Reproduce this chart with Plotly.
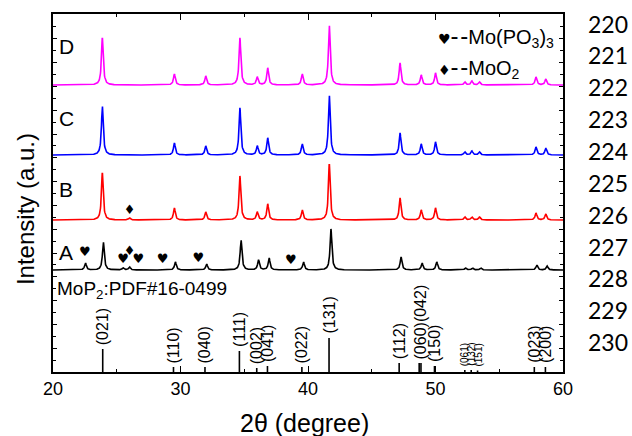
import numpy as np
import plotly.graph_objects as go

# ---------------- data ----------------
two_theta = np.round(np.arange(20.0, 60.0001, 0.02), 3)

peaks_main = [23.87, 29.52, 31.98, 34.66, 36.02, 36.84, 39.55, 41.67,
              47.22, 48.88, 50.00, 52.30, 52.85, 53.45, 57.88, 58.65]
int_D = [47, 11, 9, 47, 8, 17, 11, 60, 22, 10, 12, 3, 4, 3, 8, 6]
int_C = [49, 12, 9, 47, 9, 17, 11, 60, 22, 11, 13, 3, 4, 3, 8, 7]
int_B = [47, 12, 8, 44, 8, 16, 10, 56, 22, 10, 12, 3, 3, 3, 7, 6]
peaks_B_extra = [26.0]
int_B_extra = [2]

peaks_A = [23.95, 29.60, 32.05, 34.75, 36.12, 36.95, 39.65, 41.80,
           47.30, 48.95, 50.10, 52.35, 52.90, 53.55, 57.95, 58.75]
int_A = [28, 8, 6, 30, 10, 12, 8, 41, 13, 7, 8, 2, 2, 2, 5, 4]
peaks_A_extra = [22.55, 25.5, 26.0]
int_A_extra = [7, 2, 3]

# MoP2 reference PDF#16-0499
ref_pos = [23.90, 29.45, 31.92, 34.62, 35.98, 36.82, 39.52, 41.65,
           47.15, 48.72, 48.86, 49.92, 52.30, 52.80, 53.30, 57.75, 58.62]
ref_int = [23, 5, 5, 21, 4, 6, 5, 34, 9, 9, 9, 6, 2, 2, 1.5, 5, 5]
ref_hkl = ["(021)", "(110)", "(040)", "(111)", "(002)", "(041)", "(022)", "(131)",
           "(112)", "", "(060)(042)", "(150)", "(061)", "(132)", "(151)", "(023)", "(200)"]

# phase markers
heart_pos = [22.5, 25.5, 26.7, 28.6, 31.4, 38.65]
heart_lvl = [17, 10, 10, 10, 11, 9]
diamond_pos_A = [26.0]
diamond_lvl_A = [18]
diamond_pos_B = [26.0]
diamond_lvl_B = [9]

right_ticks = [220, 221, 222, 223, 224, 225, 226, 227, 228, 229, 230]

# ---------------- style constants ----------------
offsets = {"D": 287, "C": 217, "B": 152, "A": 102}
hwhm = 0.085


def pattern(pos, ints):
    y = np.zeros_like(two_theta)
    for p, h in zip(pos, ints):
        y += h / (1.0 + ((two_theta - p) / hwhm) ** 2)
    return y


curves = {
    "D": (pattern(peaks_main, int_D), "#ff00ff"),
    "C": (pattern(peaks_main, int_C), "#0000ff"),
    "B": (pattern(peaks_main + peaks_B_extra, int_B + int_B_extra), "#ff0000"),
    "A": (pattern(peaks_A + peaks_A_extra, int_A + int_A_extra), "#000000"),
}

fig = go.Figure()
for name, (yv, col) in curves.items():
    fig.add_trace(go.Scatter(x=two_theta, y=yv + offsets[name], mode="lines",
                             line=dict(color=col, width=1.6), name=name,
                             showlegend=False, hoverinfo="skip"))

# reference sticks
sx, sy = [], []
for p, h in zip(ref_pos, ref_int):
    sx += [p, p, None]
    sy += [0, h, None]
fig.add_trace(go.Scatter(x=sx, y=sy, mode="lines", line=dict(color="black", width=1.6),
                         showlegend=False, hoverinfo="skip"))

# phase markers
fig.add_trace(go.Scatter(x=heart_pos, y=[offsets["A"] + v for v in heart_lvl], mode="text",
                         text=["♥"] * len(heart_pos), textfont=dict(size=13, color="black",
                         family="DejaVu Sans"), showlegend=False, hoverinfo="skip"))
fig.add_trace(go.Scatter(x=diamond_pos_A + diamond_pos_B,
                         y=[offsets["A"] + v for v in diamond_lvl_A] + [offsets["B"] + v for v in diamond_lvl_B],
                         mode="text", text=["♦"] * 2,
                         textfont=dict(size=13, color="black", family="DejaVu Sans"),
                         showlegend=False, hoverinfo="skip"))

# dummy trace for right axis
fig.add_trace(go.Scatter(x=[None], y=[None], yaxis="y2", showlegend=False))

ann = []
for p, h, t in zip(ref_pos, ref_int, ref_hkl):
    if not t:
        continue
    small = t in ("(061)", "(132)", "(151)")
    ann.append(dict(x=p, y=h + 2, xref="x", yref="y", text=t, textangle=-90,
                    showarrow=False, xanchor="center", yanchor="bottom",
                    font=dict(size=10 if small else 16, family="Liberation Sans", color="black")))

for name, yy in [("D", 326), ("C", 254), ("B", 183), ("A", 120)]:
    ann.append(dict(x=20.3, y=yy, xref="x", yref="y", text=name, showarrow=False,
                    xanchor="left", yanchor="middle",
                    font=dict(size=21, family="Liberation Sans", color="black")))

ann.append(dict(x=20.15, y=82, xref="x", yref="y", text="MoP<sub>2</sub>:PDF#16-0499",
                showarrow=False, xanchor="left", yanchor="middle",
                font=dict(size=19, family="Liberation Sans", color="black")))

dash = "<span style='font-size:24px'>-</span><span style='font-size:6px'> </span><span style='font-size:24px'>-</span>"
ann.append(dict(x=50.05, y=336, xref="x", yref="y",
                text="<span style='font-family:DejaVu Sans;font-size:14px'>♥</span>" + dash + "Mo(PO<sub>3</sub>)<sub>3</sub>",
                showarrow=False, xanchor="left", yanchor="middle",
                font=dict(size=20, family="Liberation Sans", color="black")))
ann.append(dict(x=50.05, y=305, xref="x", yref="y",
                text="<span style='font-family:DejaVu Sans;font-size:14px'>♦</span>" + dash + "MoO<sub>2</sub>",
                showarrow=False, xanchor="left", yanchor="middle",
                font=dict(size=20, family="Liberation Sans", color="black")))

# axis titles (placed as paper annotations)
ann.append(dict(x=0.494, y=-0.143, xref="paper", yref="paper", text="2θ (degree)",
                showarrow=False, xanchor="center", yanchor="middle",
                font=dict(size=25, family="Liberation Sans", color="black")))
ann.append(dict(x=-0.055, y=0.455, xref="paper", yref="paper", text="Intensity (a.u.)",
                textangle=-90, showarrow=False, xanchor="center", yanchor="middle",
                font=dict(size=24, family="Liberation Sans", color="black")))

fig.update_layout(
    width=632, height=436,
    margin=dict(l=53, r=69, t=14, b=64),
    plot_bgcolor="white", paper_bgcolor="white",
    annotations=ann,
    xaxis=dict(range=[20, 60], tickvals=[20, 30, 40, 50, 60], ticks="inside", ticklen=6,
               tickwidth=1.2, tickcolor="black", automargin=False,
               minor=dict(dtick=5, ticks="inside", ticklen=3, tickcolor="black"),
               showline=True, linecolor="black", linewidth=1.5, mirror="ticks",
               showgrid=False, zeroline=False,
               tickfont=dict(size=18, family="Liberation Sans", color="black")),
    yaxis=dict(range=[0, 358], showticklabels=False, ticks="inside", ticklen=4,
               tick0=0, dtick=23.8, tickcolor="black", automargin=False,
               minor=dict(dtick=11.9, ticks="inside", ticklen=3, tickcolor="black"),
               showline=True, linecolor="black", linewidth=1.5, mirror="ticks",
               showgrid=False, zeroline=False),
    yaxis2=dict(overlaying="y", side="right", range=[230.91, 219.67],
                tickvals=right_ticks, ticktext=[str(v) for v in right_ticks],
                ticks="", showline=False, showgrid=False, zeroline=False,
                ticklabelstandoff=24, automargin=False,
                tickfont=dict(size=23, family="Lato", color="black")),
)

fig.write_html("out.html")
